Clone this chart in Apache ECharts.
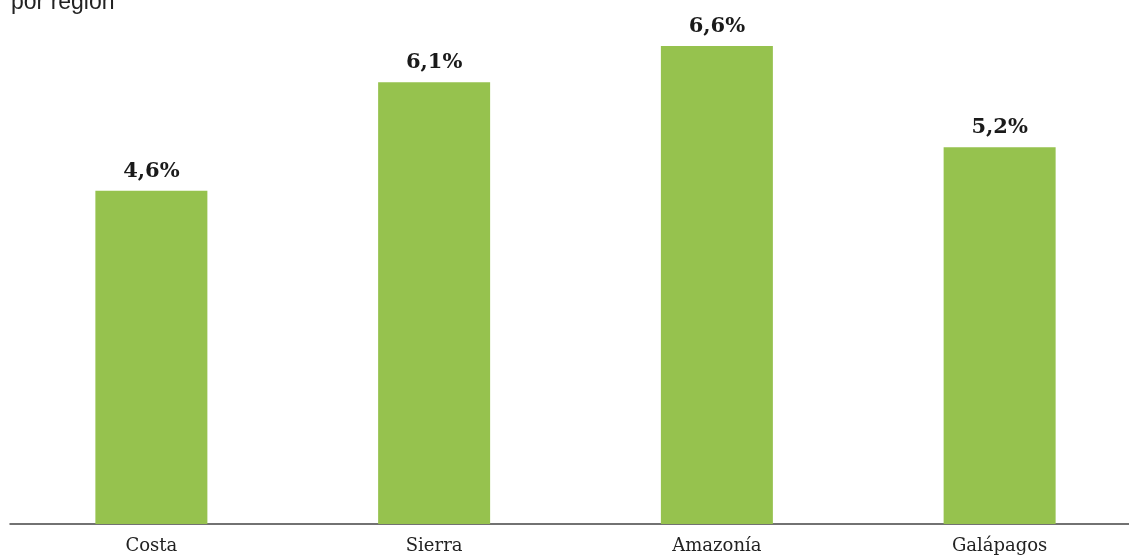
<!DOCTYPE html>
<html><head><meta charset="utf-8">
<script src="https://cdn.jsdelivr.net/npm/echarts@6/dist/echarts.min.js"></script>
<style>html,body{margin:0;padding:0;background:#fff}#c{width:1129px;height:558px}</style>
</head><body><div id="c"></div>
<script>
const categories = ['Costa', 'Sierra', 'Amazonía', 'Galápagos'];
const values = [4.6, 6.1, 6.6, 5.2];
const titleText = 'por región';

const chart = echarts.init(document.getElementById('c'), null, {renderer: 'canvas'});
chart.setOption({
  animation: false,
  backgroundColor: '#ffffff',
  title: {
    text: titleText, left: 6, top: -14,
    textStyle: {fontFamily: '"Liberation Sans", Arial, sans-serif', fontWeight: 'normal', fontSize: 23, color: '#222'}
  },
  grid: {left: 10, width: 1131, top: 17, bottom: 34, containLabel: false, outerBoundsMode: 'none'},
  xAxis: {
    type: 'category', data: categories,
    axisLine: {lineStyle: {color: '#444', width: 1.5}},
    axisTick: {show: false},
    axisLabel: {fontFamily: '"DejaVu Serif", serif', fontSize: 18, color: '#222', margin: 13}
  },
  yAxis: {type: 'value', min: 0, max: 7, show: false, splitLine: {show: false}},
  series: [{
    type: 'bar', data: values, barWidth: 112,
    itemStyle: {color: '#96c24e'},
    label: {
      show: true, position: 'top', distance: 9,
      formatter: p => p.value.toFixed(1).replace('.', ',') + '%',
      fontFamily: '"DejaVu Serif", serif', fontWeight: 'bold', fontSize: 21, color: '#1a1a1a'
    }
  }]
});
</script></body></html>
